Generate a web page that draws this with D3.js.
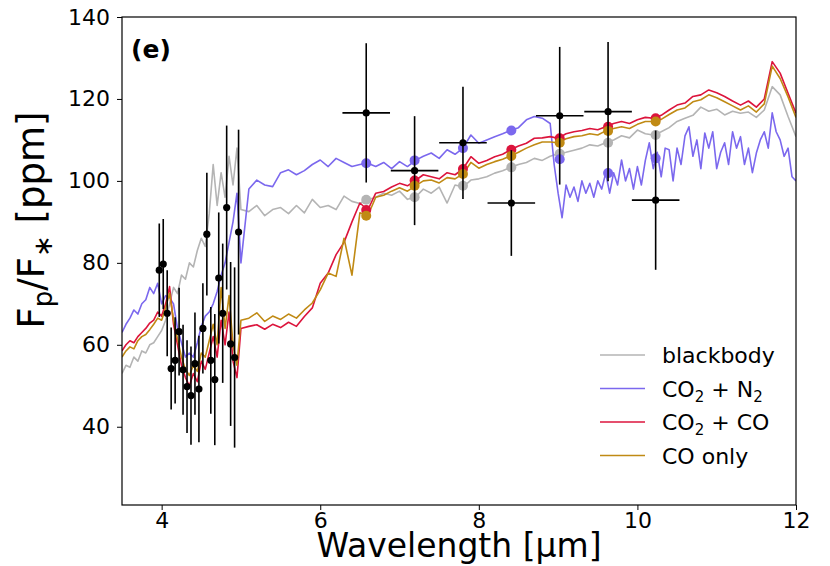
<!DOCTYPE html>
<html>
<head>
<meta charset="utf-8">
<script src="https://cdn.jsdelivr.net/npm/d3@7"></script>
<style>
  body { margin: 0; background: #fff; }
  svg text { font-family: "DejaVu Sans", sans-serif; }
</style>
</head>
<body>
<div id="chart"></div>
<script>
// model spectra grid (um)
var wave = [3.50,3.55,3.60,3.65,3.70,3.75,3.80,3.85,3.90,3.95,4.00,4.05,4.10,4.15,4.20,4.25,4.30,4.35,4.40,4.45,4.50,4.55,4.60,4.65,4.70,4.75,4.80,4.85,4.90,4.95,5.00,
  5.1,5.2,5.3,5.4,5.5,5.6,5.7,5.8,5.9,6.0,6.1,6.2,6.3,6.4,6.5,6.6,6.7,6.8,6.9,7.0,7.1,7.2,7.3,7.4,7.5,7.6,7.7,7.8,7.9,8.0,
  8.1,8.2,8.3,8.4,8.5,8.6,8.7,8.8,8.9,9.0,9.1,9.2,9.3,9.4,9.5,9.6,9.7,9.8,9.9,10.0,10.1,10.2,10.3,10.4,10.5,10.6,10.7,10.8,10.9,11.0,
  11.1,11.2,11.3,11.4,11.5,11.6,11.7,11.8,11.9,12.0];

// finer grid for the noisy CO2 + N2 model
var waveN2 = [3.50,3.55,3.60,3.65,3.70,3.75,3.80,3.85,3.90,3.95,4.00,4.05,4.10,4.15,4.20,4.25,4.30,4.35,4.40,4.45,4.50,4.55,4.60,4.65,4.70,4.75,4.80,4.85,4.90,4.95,5.00,
  5.1,5.2,5.3,5.4,5.5,5.6,5.7,5.8,5.9,6.0,6.1,6.2,6.3,6.4,6.5,6.6,6.7,6.8,6.9,7.0,7.1,7.2,7.3,7.4,7.5,7.6,7.7,7.8,7.9,8.0,
  8.1,8.2,8.3,8.4,8.5,8.6,8.7,8.8,
  8.90,8.95,9.00,9.05,9.10,9.15,9.20,9.25,9.30,9.35,9.40,9.45,9.50,9.55,9.60,9.65,9.70,9.75,9.80,9.85,9.90,9.95,
  10.00,10.05,10.10,10.15,10.20,10.25,10.30,10.35,10.40,10.45,10.50,10.55,10.60,10.65,10.70,10.75,10.80,10.85,10.90,10.95,
  11.00,11.05,11.10,11.15,11.20,11.25,11.30,11.35,11.40,11.45,11.50,11.55,11.60,11.65,11.70,11.75,11.80,11.85,11.90,11.95,12.00];

var blackbody = [53,55,54.5,57,56,58.5,58,60,60.5,62,63.5,66,70,74,72.5,77,76,80,79,83,86,84,92,104,94,102,96,106,99,108,93,
  92.5,94,91.5,93,93.5,92,94,92.2,95.5,93.5,94,93,96.3,95,94.5,95.4,96,97,96.5,97.5,95.5,96,98,97,98.5,94.6,99,98.5,100.2,100.5,
  101,101.9,102.5,103.3,104,104.5,105.5,105,106,106.6,107,107.5,108,108.8,108.5,109.3,110,111,110.5,112.4,111.5,111.2,112,113,114.5,115.3,116,118,117,117.5,
  116.1,117,116.5,116.8,115.5,117.3,123,121,115.7,110.8];

var co2n2 = [63,65,66.5,68.5,67.5,70,71,74,72.5,75,70,72,71.5,70,64,60.5,57,58,57,60.5,64.5,67,68,70,73,77,80,85,90,97,80,
  98,100.2,99,98.6,102,102.7,101.5,102.5,104,105.1,103.5,105.5,104.5,103.5,104,104.3,103.5,104.5,103,104.7,103.5,105,106,106.8,105.5,107.6,106.5,108,111.2,109.2,
  110,110.8,111.5,112.3,113,114.9,115.7,115.3,
  114,104,97,91,99,96,98.5,95,100,97,99.4,96,100,98,101.9,97,102,99,105.1,100,103,98,
  103.5,99,105,109.3,103,107,101,108,107.6,100,108,104,111,113.2,106,110,103,111.7,108,112,
  103,107,109.3,104,112,108,110.8,104,108,102,106.8,110,112,108,116.6,112,110,106,108,101,100];

var co2co = [58.5,60,61,60.5,62,63,64,65.3,66,68,67,70,74.2,65,60,55,52,50,53,51,56,54,58,62,57,66,60,68,56,52,64,
  64.5,64.9,63.8,65,64.2,65.5,64.5,66.9,69,75,77.5,82,85,90,94.6,92.9,97,97.4,98.5,99.4,98.8,100.1,101.5,101,100.5,102,101.5,102.9,105.9,104.3,
  105,105.9,106.5,107.6,108.5,109.2,110.4,110.5,110.8,110.4,111.5,112,112.3,112.8,112.5,113.2,114,114.5,114,114.9,115.5,115.3,116,117.3,118.5,119,120.6,121,122.2,121.5,
  120.6,119.5,118.5,119.5,118,120,129.1,126.3,121.4,116.5];

var coOnly = [57,58.5,59.5,59,61,62,62.5,63.7,65,66.5,66,69,72.6,66,61.5,57,54,52.5,55,53.5,58,57,61,65,60,74,64,72,60,55,66,
  66.5,67.8,65.7,67,66.2,67.5,66.5,68.5,70.2,73.4,77.5,76.7,86,77,92.2,91.5,96,96.5,97.5,98.3,97.5,98.8,100,100.2,99.5,100.8,100.5,101.7,104.5,103.1,
  104,104.7,105.3,106.1,107,108,108.8,109.5,109.5,109.3,110.3,110.8,111,111.5,111.2,112.2,112.8,113.2,112.8,113.8,114.5,114.5,115,116.2,117.3,117.8,119.3,119.8,121,120.3,
  119.3,118.3,117.3,118.3,116.8,118.8,128,125,120.5,115.5];

// observed eclipse depths, short wavelengths
var obsWave = [3.97,4.02,4.07,4.12,4.17,4.22,4.27,4.32,4.37,4.42,4.47,4.52,4.57,4.62,4.67,4.72,4.77,4.82,4.87,4.92,4.97];
var obsDepth = [78.2,79.7,67.7,54.2,56.2,63.2,53.9,49.8,47.6,55.4,49.2,64.0,87.0,56.2,51.5,76.3,67.7,93.5,60.2,56.9,87.5];
var obsErr = [11.4,11,10.5,10,10.5,10.7,11,11.3,12,12.5,13,11,15,13,16,16,17,20,20,22,25];

// observed eclipse depths, broad bins
var binWave = [6.58,7.19,7.80,8.41,9.02,9.63,10.23];
var binHalf = [0.3,0.3,0.3,0.3,0.3,0.3,0.3];
var binDepth = [116.6,102.5,109.3,94.6,115.9,116.9,95.3];
var binErr = [17,13.3,13.7,12.9,16.8,17,17];

// binned models at the broad bins
var binBlackbody = [95.4,96.0,98.8,103.3,106.6,109.3,111.2];
var binCo2n2 = [104.3,105.0,108.0,112.3,105.3,101.9,105.5];
var binCo2co = [92.9,100.1,102.9,107.6,110.4,113.2,115.3];
var binCoOnly = [91.5,98.8,101.7,106.1,109.3,112.2,114.5];

var models = [
  {values: blackbody, grid: wave, bins: binBlackbody, color: "#b4b4b4"},
  {values: co2n2, grid: waveN2, bins: binCo2n2, color: "#7b68ee"},
  {values: co2co, grid: wave, bins: binCo2co, color: "#dc143c"},
  {values: coOnly, grid: wave, bins: binCoOnly, color: "#c08a14"}
];

var svgWidth = 830;
var svgHeight = 566;
var margin = {top: 17, right: 34, bottom: 61, left: 122};
var width = svgWidth - margin.left - margin.right;
var height = svgHeight - margin.top - margin.bottom;

var svg = d3.select("#chart")
  .append("svg")
  .attr("width", svgWidth)
  .attr("height", svgHeight);

var chartGroup = svg.append("g")
  .attr("transform", `translate(${margin.left}, ${margin.top})`);

var x = d3.scaleLinear().domain([3.5, 12]).range([0, width]);
var y = d3.scaleLinear().domain([20.9, 140]).range([height, 0]);

svg.append("clipPath").attr("id", "clip")
  .append("rect").attr("width", width).attr("height", height);

var plot = chartGroup.append("g").attr("clip-path", "url(#clip)");

models.forEach(function(m) {
  var line = d3.line()
    .x((d, i) => x(m.grid[i]))
    .y(d => y(d));
  plot.append("path")
    .datum(m.values)
    .attr("fill", "none")
    .attr("stroke", m.color)
    .attr("stroke-width", 1.6)
    .attr("stroke-linejoin", "round")
    .attr("d", line);
});

models.forEach(function(m) {
  plot.selectAll(null)
    .data(m.bins)
    .enter()
    .append("circle")
    .attr("cx", (d, i) => x(binWave[i]))
    .attr("cy", d => y(d))
    .attr("r", 5)
    .attr("fill", m.color);
});

// error bars, small points
var obs = plot.append("g");
obsWave.forEach(function(w, i) {
  obs.append("line")
    .attr("x1", x(w)).attr("x2", x(w))
    .attr("y1", y(obsDepth[i] - obsErr[i]))
    .attr("y2", y(obsDepth[i] + obsErr[i]))
    .attr("stroke", "black")
    .attr("stroke-width", 1.6);
});
obs.selectAll("circle")
  .data(obsDepth)
  .enter()
  .append("circle")
  .attr("cx", (d, i) => x(obsWave[i]))
  .attr("cy", d => y(d))
  .attr("r", 3.6)
  .attr("fill", "black");

// broad bins
var bins = plot.append("g");
binWave.forEach(function(w, i) {
  bins.append("line")
    .attr("x1", x(w)).attr("x2", x(w))
    .attr("y1", y(binDepth[i] - binErr[i]))
    .attr("y2", y(binDepth[i] + binErr[i]))
    .attr("stroke", "black")
    .attr("stroke-width", 1.6);
  bins.append("line")
    .attr("x1", x(w - binHalf[i])).attr("x2", x(w + binHalf[i]))
    .attr("y1", y(binDepth[i])).attr("y2", y(binDepth[i]))
    .attr("stroke", "black")
    .attr("stroke-width", 1.6);
});
bins.selectAll("circle")
  .data(binDepth)
  .enter()
  .append("circle")
  .attr("cx", (d, i) => x(binWave[i]))
  .attr("cy", d => y(d))
  .attr("r", 3.6)
  .attr("fill", "black");

// axes
var bottomAxis = d3.axisBottom(x).tickValues([4, 6, 8, 10, 12]).tickSize(5).tickPadding(2);
var leftAxis = d3.axisLeft(y).tickValues([40, 60, 80, 100, 120, 140]).tickSize(5).tickPadding(7);

var xAxisG = chartGroup.append("g")
  .attr("transform", `translate(0, ${height})`)
  .call(bottomAxis);
var yAxisG = chartGroup.append("g")
  .call(leftAxis);

[xAxisG, yAxisG].forEach(function(g) {
  g.select(".domain").remove();
  g.selectAll("line").attr("stroke", "black").attr("stroke-width", 1);
  g.selectAll("text").attr("font-size", 22).attr("fill", "black")
    .style("font-family", "DejaVu Sans, sans-serif");
});

chartGroup.append("rect")
  .attr("width", width)
  .attr("height", height)
  .attr("fill", "none")
  .attr("stroke", "black")
  .attr("stroke-width", 1.2);

chartGroup.append("text")
  .attr("x", 9)
  .attr("y", 41)
  .attr("font-size", 25)
  .attr("font-weight", "bold")
  .text("(e)");

// axis labels
chartGroup.append("text")
  .attr("transform", `translate(${width / 2}, ${height + 52})`)
  .attr("text-anchor", "middle")
  .attr("font-size", 33)
  .text("Wavelength [μm]");

var yLabel = chartGroup.append("text")
  .attr("transform", `translate(${-78}, ${203}) rotate(-90)`)
  .attr("text-anchor", "middle")
  .attr("font-size", 37);
yLabel.append("tspan").text("F");
yLabel.append("tspan").attr("font-size", 26).attr("dy", 8).text("p");
yLabel.append("tspan").attr("dy", -8).text("/F");
yLabel.append("tspan").attr("font-size", 26).attr("dy", 8).text("∗");
yLabel.append("tspan").attr("dy", -8).text(" [ppm]");

// legend
var legendItems = [
  {color: "#b4b4b4", parts: [["blackbody", false]]},
  {color: "#7b68ee", parts: [["CO", false], ["2", true], [" + N", false], ["2", true]]},
  {color: "#dc143c", parts: [["CO", false], ["2", true], [" + CO", false]]},
  {color: "#c08a14", parts: [["CO only", false]]}
];

var legend = chartGroup.append("g")
  .attr("transform", `translate(${width - 196}, ${height - 150})`);

legendItems.forEach(function(item, i) {
  var row = legend.append("g").attr("transform", `translate(0, ${i * 33.5})`);
  row.append("line")
    .attr("x1", 0).attr("x2", 45)
    .attr("y1", 0).attr("y2", 0)
    .attr("stroke", item.color)
    .attr("stroke-width", 1.6);
  var t = row.append("text")
    .attr("x", 62)
    .attr("y", 8)
    .attr("font-size", 22);
  item.parts.forEach(function(p) {
    if (p[1]) {
      t.append("tspan").attr("font-size", 15).attr("dy", 5).text(p[0]);
    } else {
      var s = t.append("tspan").text(p[0]);
      if (t.selectAll("tspan").size() > 1) s.attr("dy", -5);
    }
  });
});
</script>
</body>
</html>
